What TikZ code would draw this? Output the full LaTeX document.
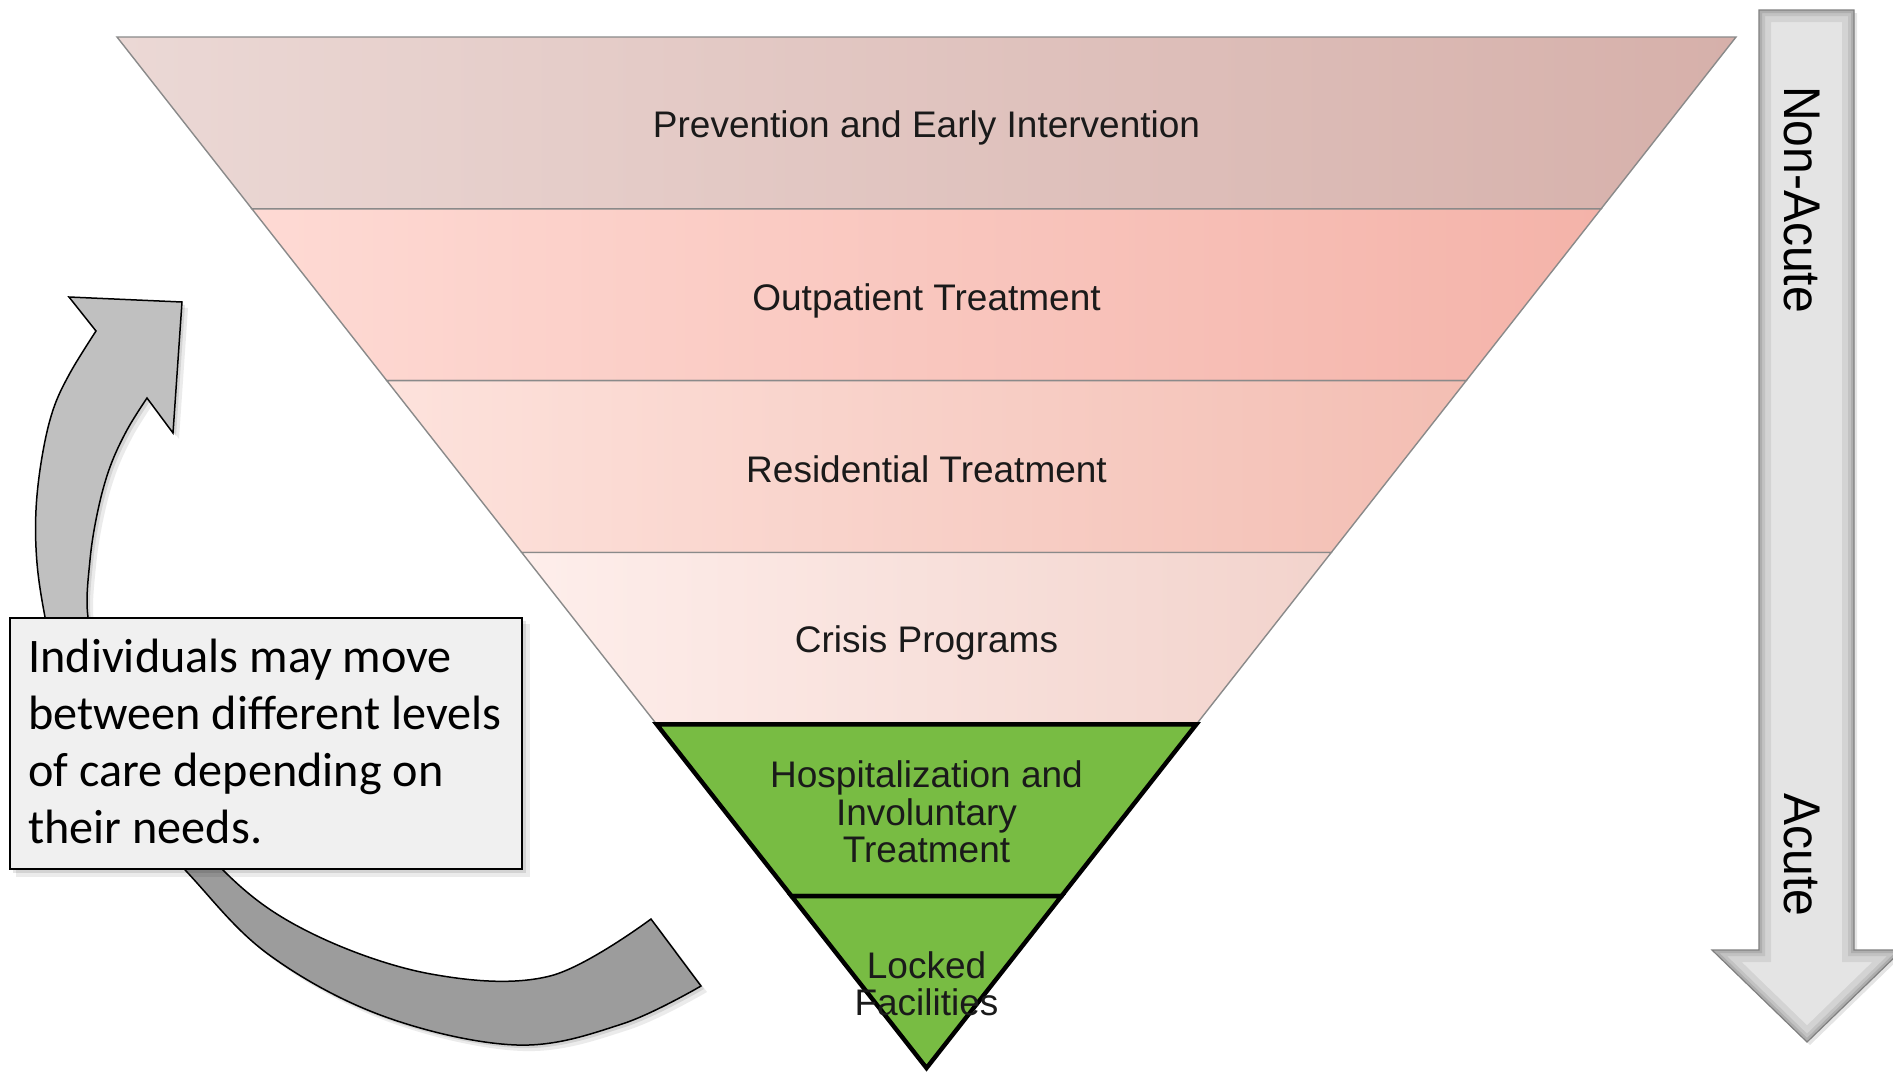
\documentclass[tikz,border=0pt]{standalone}
\usepackage{fontspec}
\setmainfont{Liberation Sans}
\newfontfamily\notefont{Carlito}
\newfontfamily\arrowfont[FakeStretch=0.93]{Liberation Sans}
\usetikzlibrary{calc}
\definecolor{bAl}{HTML}{EBD8D5}
\definecolor{bAm}{HTML}{E3C6C0}
\definecolor{bAr}{HTML}{D6B0AA}
\definecolor{bBl}{HTML}{FEDAD4}
\definecolor{bBm}{HTML}{FBC0B5}
\definecolor{bBr}{HTML}{F4B3A9}
\definecolor{bCl}{HTML}{FDE2DC}
\definecolor{bCm}{HTML}{F9CFC6}
\definecolor{bCr}{HTML}{F3BEB3}
\definecolor{bDl}{HTML}{FEEEEB}
\definecolor{bDm}{HTML}{FAE1DC}
\definecolor{bDr}{HTML}{F2D3CC}
\definecolor{bandgray}{HTML}{8A8A8A}
\definecolor{careGreen}{HTML}{78BC43}
\definecolor{textdark}{HTML}{1A1A1A}
\definecolor{arrowlight}{HTML}{C0C0C0}
\definecolor{arrowdark}{HTML}{9C9C9C}
\definecolor{notefill}{HTML}{F0F0F0}
\definecolor{sidefill}{HTML}{E4E4E4}
\tikzset{
  bandline/.style={draw=bandgray, line width=0.7pt},
  greenband/.style={fill=careGreen, draw=black, line width=2.2pt, line join=miter},
  bandlabel/.style={font=\fontsize{18.5}{18.7}\selectfont, text=textdark, inner sep=0pt, align=center},
  sidelabel/.style={font=\arrowfont\fontsize{25.8}{26}\selectfont, text=black, inner sep=0pt, rotate=-90},
  notebox/.style={fill=notefill, draw=black, line width=1pt, minimum width=256pt, minimum height=125.5pt, inner sep=0pt},
  notetext/.style={font=\notefont\fontsize{24.1}{28.5}\selectfont, text=black, align=left, inner sep=0pt},
  curveborder/.style={draw=black, line width=0.75pt, line join=miter}
}
\def\carrow{(701,986) -- plot[smooth, tension=0.6] coordinates {(701,986) (622,1024) (517,1045) (383,1016) (268,954) (187,872) (112,787) (59,680) (45,617) (37,563) (36,510) (42,457) (53,410) (70,373) (96,331)} -- (69,297) -- (182,302) -- (173,433) -- plot[smooth, tension=0.6] coordinates {(147,398) (127,430) (110,467) (98,510) (90,560) (88,617) (105,668) (144,768) (225,872) (311,933) (431,974) (550,976) (651,919)} -- cycle}
\def\sidearrow{(1759,10) -- (1854,10) -- (1854,950) -- (1902,950) -- (1807,1042) -- (1712,950) -- (1759,950) -- cycle}
\begin{document}
\begin{tikzpicture}[x=0.5pt, y=-0.5pt]
\useasboundingbox (0,0) rectangle (1893,1071);
\clip (0,0) rectangle (1893,1071);
\fill[white] (0,0) rectangle (1893,1071);

% funnel geometry
\coordinate (TL) at (117,37);
\coordinate (TR) at (1736,37);
\coordinate (AP) at (926.5,1068);

% pink bands
\shade[bandline, left color=bAl, middle color=bAm, right color=bAr]
  (TL) -- (TR) -- ($(TR)!1/6!(AP)$) -- ($(TL)!1/6!(AP)$) -- cycle;
\shade[bandline, left color=bBl, middle color=bBm, right color=bBr]
  ($(TL)!1/6!(AP)$) -- ($(TR)!1/6!(AP)$) -- ($(TR)!2/6!(AP)$) -- ($(TL)!2/6!(AP)$) -- cycle;
\shade[bandline, left color=bCl, middle color=bCm, right color=bCr]
  ($(TL)!2/6!(AP)$) -- ($(TR)!2/6!(AP)$) -- ($(TR)!3/6!(AP)$) -- ($(TL)!3/6!(AP)$) -- cycle;
\shade[bandline, left color=bDl, middle color=bDm, right color=bDr]
  ($(TL)!3/6!(AP)$) -- ($(TR)!3/6!(AP)$) -- ($(TR)!4/6!(AP)$) -- ($(TL)!4/6!(AP)$) -- cycle;
% green bands
\path[greenband]
  ($(TL)!4/6!(AP)$) -- ($(TR)!4/6!(AP)$) -- ($(TR)!5/6!(AP)$) -- ($(TL)!5/6!(AP)$) -- cycle;
\path[greenband]
  ($(TL)!5/6!(AP)$) -- ($(TR)!5/6!(AP)$) -- (AP) -- cycle;

% band labels
\node[bandlabel] (prev) at (926.5,128) {Prevention and Early Intervention};
\node[bandlabel] (outp) at (926.5,301) {Outpatient Treatment};
\node[bandlabel] (resi) at (926.5,469) {Residential Treatment};
\node[bandlabel] (cris) at (926.5,643) {Crisis Programs};
\node[bandlabel] (hosp) at (926.5,812) {Hospitalization and\\Involuntary\\Treatment};
\node[bandlabel] (lock) at (926.5,984) {Locked\\Facilities};

% right-hand down arrow
\fill[black, opacity=0.10, shift={(3,3)}] \sidearrow;
\fill[sidefill] \sidearrow;
\begin{scope}
  \clip \sidearrow;
  \draw[black, opacity=0.07, line width=12pt, line join=miter] \sidearrow;
  \draw[black, opacity=0.08, line width=6pt, line join=miter] \sidearrow;
  \draw[black, opacity=0.10, line width=3pt, line join=miter] \sidearrow;
\end{scope}
\draw[draw=gray, line width=0.6pt, line join=miter] \sidearrow;
\node[sidelabel] (nonacute) at (1801.5,199.5) {Non-Acute};
\node[sidelabel] (acute) at (1801.5,855) {Acute};

% curved arrow
\fill[black, opacity=0.08, shift={(6,6)}] \carrow;
\fill[black, opacity=0.10, shift={(3,3)}] \carrow;
\begin{scope}
  \clip (0,0) rectangle (700,745);
  \fill[arrowlight] \carrow;
\end{scope}
\begin{scope}
  \clip (0,745) rectangle (900,1071);
  \fill[arrowdark] \carrow;
\end{scope}
\path[curveborder] \carrow;

% note box
\fill[black, opacity=0.08] (16,624) rectangle (530,877);
\fill[black, opacity=0.10] (13,621) rectangle (526,873);
\node[notebox] (notebox) at (266,743.5) {};
\node[notetext, anchor=north west] (note) at (28,639)
  {Individuals may move\\between different levels\\of care depending on\\their needs.};
\end{tikzpicture}
\end{document}
